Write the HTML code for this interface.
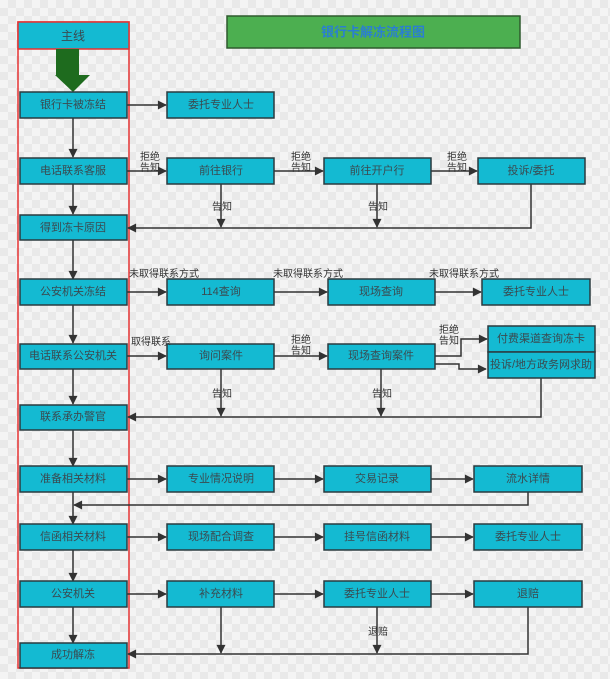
<!DOCTYPE html>
<html><head><meta charset="utf-8"><style>
html,body{margin:0;padding:0;width:610px;height:679px;overflow:hidden;background:#f4f4f4;
background-image:linear-gradient(45deg,#e9e9e9 25%,transparent 25%,transparent 75%,#e9e9e9 75%),linear-gradient(45deg,#e9e9e9 25%,transparent 25%,transparent 75%,#e9e9e9 75%);
background-size:16px 16px;background-position:0 0,8px 8px;}
svg{display:block}
text{font-family:"Liberation Sans","Noto Sans CJK SC",sans-serif;}
.b{fill:#14bad2;stroke:#2b3b3f;stroke-width:1.5}
.t{font-size:11px;fill:#3a4a50;text-anchor:middle;dominant-baseline:central}
.l{font-size:10px;fill:#333;}
.ln{stroke:#333;stroke-width:1.5;fill:none}
</style></head><body>
<svg width="610" height="679" viewBox="0 0 610 679">
<defs><marker id="a" viewBox="0 0 10 10" refX="9" refY="5" markerWidth="10" markerHeight="9" orient="auto" markerUnits="userSpaceOnUse"><path d="M0,0L10,5L0,10z" fill="#333"/></marker></defs>
<rect x="227" y="16" width="293" height="32" fill="#4caf50" stroke="#2e5a2e" stroke-width="1.5"/>
<text x="373" y="32" class="t" style="font-size:13px;font-weight:bold;fill:#2a7fd0">银行卡解冻流程图</text>
<rect x="18" y="22" width="111" height="646" fill="none" stroke="#e53333" stroke-width="1.5"/>
<rect x="18" y="22" width="111" height="27" fill="#14bad2" stroke="#e53333" stroke-width="1.5"/>
<text x="73" y="36" class="t" style="font-size:12px">主线</text>
<path d="M56,49H79V75H90L73,92L55,75H56Z" fill="#1e6b1e"/>
<g class="ln">
<path d="M73,118V157" marker-end="url(#a)"/>
<path d="M73,184V214" marker-end="url(#a)"/>
<path d="M73,240V279" marker-end="url(#a)"/>
<path d="M73,305V343" marker-end="url(#a)"/>
<path d="M73,369V404" marker-end="url(#a)"/>
<path d="M73,430V466" marker-end="url(#a)"/>
<path d="M73,492V524" marker-end="url(#a)"/>
<path d="M73,550V581" marker-end="url(#a)"/>
<path d="M73,607V643" marker-end="url(#a)"/>
<path d="M127,105H166" marker-end="url(#a)"/>
<path d="M127,171H166" marker-end="url(#a)"/>
<path d="M274,171H323" marker-end="url(#a)"/>
<path d="M431,171H477" marker-end="url(#a)"/>
<path d="M221,184V227" marker-end="url(#a)"/>
<path d="M377,184V227" marker-end="url(#a)"/>
<path d="M531,184V228H128" marker-end="url(#a)"/>
<path d="M127,292H166" marker-end="url(#a)"/>
<path d="M274,292H327" marker-end="url(#a)"/>
<path d="M435,292H481" marker-end="url(#a)"/>
<path d="M127,356H166" marker-end="url(#a)"/>
<path d="M274,356H327" marker-end="url(#a)"/>
<path d="M435,356H461V339H487" marker-end="url(#a)"/>
<path d="M435,364H459V369H486" marker-end="url(#a)"/>
<path d="M221,369V416" marker-end="url(#a)"/>
<path d="M381,369V416" marker-end="url(#a)"/>
<path d="M541,378V417H128" marker-end="url(#a)"/>
<path d="M127,479H166" marker-end="url(#a)"/>
<path d="M274,479H323" marker-end="url(#a)"/>
<path d="M431,479H473" marker-end="url(#a)"/>
<path d="M528,492V505H74" marker-end="url(#a)"/>
<path d="M127,537H166" marker-end="url(#a)"/>
<path d="M274,537H323" marker-end="url(#a)"/>
<path d="M431,537H473" marker-end="url(#a)"/>
<path d="M127,594H166" marker-end="url(#a)"/>
<path d="M274,594H323" marker-end="url(#a)"/>
<path d="M431,594H473" marker-end="url(#a)"/>
<path d="M221,607V653" marker-end="url(#a)"/>
<path d="M377,607V653" marker-end="url(#a)"/>
<path d="M528,607V654H128" marker-end="url(#a)"/>
</g>
<g>
<rect class="b" x="20" y="92" width="107" height="26"/><text class="t" x="73" y="105">银行卡被冻结</text>
<rect class="b" x="20" y="158" width="107" height="26"/><text class="t" x="73" y="171">电话联系客服</text>
<rect class="b" x="20" y="215" width="107" height="25"/><text class="t" x="73" y="228">得到冻卡原因</text>
<rect class="b" x="20" y="279" width="107" height="26"/><text class="t" x="73" y="292">公安机关冻结</text>
<rect class="b" x="20" y="344" width="107" height="25"/><text class="t" x="73" y="356">电话联系公安机关</text>
<rect class="b" x="20" y="405" width="107" height="25"/><text class="t" x="73" y="417">联系承办警官</text>
<rect class="b" x="20" y="466" width="107" height="26"/><text class="t" x="73" y="479">准备相关材料</text>
<rect class="b" x="20" y="524" width="107" height="26"/><text class="t" x="73" y="537">信函相关材料</text>
<rect class="b" x="20" y="581" width="107" height="26"/><text class="t" x="73" y="594">公安机关</text>
<rect class="b" x="20" y="643" width="107" height="25"/><text class="t" x="73" y="655">成功解冻</text>
</g>
<rect class="b" x="167" y="92" width="107" height="26"/><text class="t" x="221" y="105">委托专业人士</text>
<rect class="b" x="167" y="158" width="107" height="26"/><text class="t" x="221" y="171">前往银行</text>
<rect class="b" x="324" y="158" width="107" height="26"/><text class="t" x="377" y="171">前往开户行</text>
<rect class="b" x="478" y="158" width="107" height="26"/><text class="t" x="531" y="171">投诉/委托</text>
<rect class="b" x="167" y="279" width="107" height="26"/><text class="t" x="221" y="292">114查询</text>
<rect class="b" x="328" y="279" width="107" height="26"/><text class="t" x="381" y="292">现场查询</text>
<rect class="b" x="482" y="279" width="108" height="26"/><text class="t" x="536" y="292">委托专业人士</text>
<rect class="b" x="167" y="344" width="107" height="25"/><text class="t" x="221" y="356">询问案件</text>
<rect class="b" x="328" y="344" width="107" height="25"/><text class="t" x="381" y="356">现场查询案件</text>
<rect class="b" x="488" y="326" width="107" height="26"/><text class="t" x="541" y="339">付费渠道查询冻卡</text>
<rect class="b" x="488" y="352" width="107" height="26"/><text class="t" x="541" y="365">投诉/地方政务网求助</text>
<rect class="b" x="167" y="466" width="107" height="26"/><text class="t" x="221" y="479">专业情况说明</text>
<rect class="b" x="324" y="466" width="107" height="26"/><text class="t" x="377" y="479">交易记录</text>
<rect class="b" x="474" y="466" width="108" height="26"/><text class="t" x="528" y="479">流水详情</text>
<rect class="b" x="167" y="524" width="107" height="26"/><text class="t" x="221" y="537">现场配合调查</text>
<rect class="b" x="324" y="524" width="107" height="26"/><text class="t" x="377" y="537">挂号信函材料</text>
<rect class="b" x="474" y="524" width="108" height="26"/><text class="t" x="528" y="537">委托专业人士</text>
<rect class="b" x="167" y="581" width="107" height="26"/><text class="t" x="221" y="594">补充材料</text>
<rect class="b" x="324" y="581" width="107" height="26"/><text class="t" x="377" y="594">委托专业人士</text>
<rect class="b" x="474" y="581" width="108" height="26"/><text class="t" x="528" y="594">退赔</text>
<g class="l">
<text x="140" y="160">拒绝</text><text x="140" y="171">告知</text>
<text x="291" y="160">拒绝</text><text x="291" y="171">告知</text>
<text x="447" y="160">拒绝</text><text x="447" y="171">告知</text>
<text x="212" y="210">告知</text><text x="368" y="210">告知</text>
<text x="129" y="277">未取得联系方式</text>
<text x="273" y="277">未取得联系方式</text>
<text x="429" y="277">未取得联系方式</text>
<text x="131" y="345">取得联系</text>
<text x="291" y="343">拒绝</text><text x="291" y="354">告知</text>
<text x="439" y="333">拒绝</text><text x="439" y="344">告知</text>
<text x="212" y="397">告知</text><text x="372" y="397">告知</text>
<text x="368" y="635">退赔</text>
</g>
</svg>
</body></html>
